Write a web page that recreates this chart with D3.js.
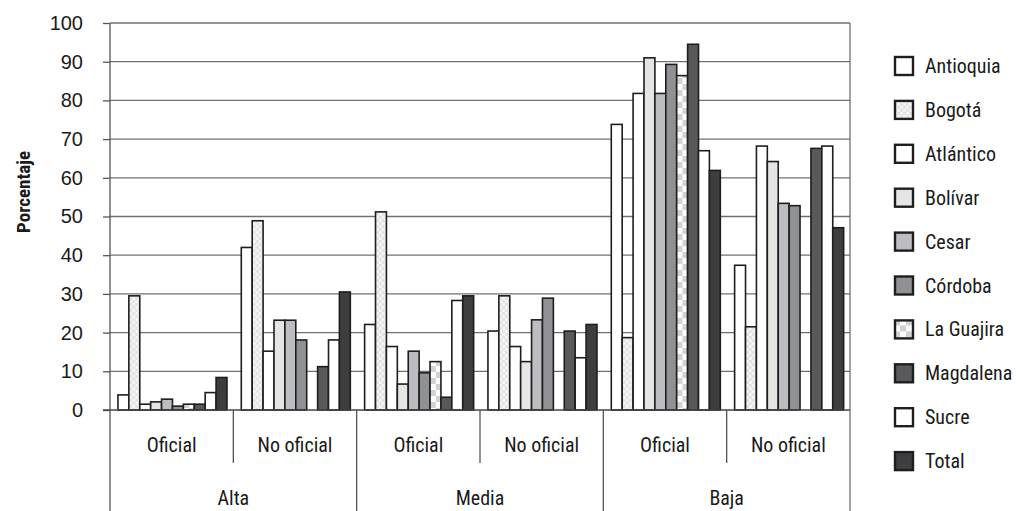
<!DOCTYPE html>
<html>
<head>
<meta charset="utf-8">
<script src="https://cdn.jsdelivr.net/npm/d3@7"></script>
<style>
  html, body { margin: 0; padding: 0; background: #fff; }
  svg { display: block; }
  text { font-family: "Liberation Sans Narrow", "Arial Narrow", "Roboto Condensed", "Liberation Sans", sans-serif; fill: #1a1a1a; }
</style>
</head>
<body>
<svg id="chart" width="1016" height="511"></svg>
<script>
// Nivel (top level) and sector (second level) of the category axis
const levels = ["Alta", "Media", "Baja"];
const sectors = ["Oficial", "No oficial"];

// Departments / series
const series = ["Antioquia", "Bogotá", "Atlántico", "Bolívar", "Cesar", "Córdoba", "La Guajira", "Magdalena", "Sucre", "Total"];

// Percentages per department, in the order Alta-Oficial, Alta-No oficial, Media-Oficial, Media-No oficial, Baja-Oficial, Baja-No oficial
const antioquia = [3.9, 42.0, 22.1, 20.4, 73.8, 37.4];
const bogota    = [29.5, 48.9, 51.2, 29.5, 18.7, 21.5];
const atlantico = [1.5, 15.2, 16.4, 16.4, 81.8, 68.2];
const bolivar   = [2.1, 23.2, 6.7, 12.5, 91.0, 64.2];
const cesar     = [2.8, 23.2, 15.2, 23.3, 81.8, 53.4];
const cordoba   = [1.0, 18.1, 9.6, 28.9, 89.3, 52.8];
const guajira   = [1.5, 0, 12.5, 0, 86.4, 0];
const magdalena = [1.5, 11.2, 3.3, 20.4, 94.5, 67.6];
const sucre     = [4.5, 18.1, 28.3, 13.5, 67.0, 68.2];
const total     = [8.4, 30.5, 29.5, 22.1, 61.9, 47.1];

const yTicks = [0, 10, 20, 30, 40, 50, 60, 70, 80, 90, 100];

const valuesBySeries = [antioquia, bogota, atlantico, bolivar, cesar, cordoba, guajira, magdalena, sucre, total];
const groups = [];
levels.forEach(l => sectors.forEach(s => groups.push({ level: l, sector: s, key: l + "|" + s })));
const rows = groups.map((g, gi) => ({
  key: g.key,
  values: series.map((name, si) => ({ name, value: valuesBySeries[si][gi] }))
}));

const svg = d3.select("#chart");
const defs = svg.append("defs");

// Fine light checker (Bogotá)
const pB = defs.append("pattern").attr("id", "pat-bogota").attr("patternUnits", "userSpaceOnUse")
  .attr("width", 6).attr("height", 6);
pB.append("rect").attr("width", 6).attr("height", 6).attr("fill", "#e4e4e4");
pB.append("rect").attr("x", 0).attr("y", 0).attr("width", 3).attr("height", 3).attr("fill", "#f4f4f4");
pB.append("rect").attr("x", 3).attr("y", 3).attr("width", 3).attr("height", 3).attr("fill", "#f4f4f4");

// Coarse checker (La Guajira)
const pG = defs.append("pattern").attr("id", "pat-guajira").attr("patternUnits", "userSpaceOnUse")
  .attr("width", 12).attr("height", 12);
pG.append("rect").attr("width", 12).attr("height", 12).attr("fill", "#ffffff");
pG.append("rect").attr("x", 0).attr("y", 0).attr("width", 6).attr("height", 6).attr("fill", "#d2d2d2");
pG.append("rect").attr("x", 6).attr("y", 6).attr("width", 6).attr("height", 6).attr("fill", "#d2d2d2");

const fills = {
  "Antioquia": "#ffffff",
  "Bogotá": "url(#pat-bogota)",
  "Atlántico": "#ffffff",
  "Bolívar": "#e5e5e5",
  "Cesar": "#bcbdc1",
  "Córdoba": "#909195",
  "La Guajira": "url(#pat-guajira)",
  "Magdalena": "#59595b",
  "Sucre": "#ffffff",
  "Total": "#3d3e40"
};

const plotLeft = 110, plotRight = 850, plotTop = 23, plotBottom = 410;

const y = d3.scaleLinear().domain([0, 100]).range([plotBottom, plotTop]);
const x0 = d3.scaleBand().domain(groups.map(g => g.key)).range([plotLeft, plotRight])
  .paddingInner(0.116).paddingOuter(0.058);
const x1 = d3.scaleBand().domain(series).range([0, x0.bandwidth()]);
const gapHalf = (x0.step() - x0.bandwidth()) / 2;

// Gridlines
svg.append("g").selectAll("line").data(yTicks.filter(d => d > 0)).join("line")
  .attr("x1", plotLeft).attr("x2", plotRight)
  .attr("y1", d => y(d)).attr("y2", d => y(d))
  .attr("stroke", "#707070").attr("stroke-width", 1.3);

// Right border
svg.append("line").attr("x1", plotRight).attr("x2", plotRight).attr("y1", y(100)).attr("y2", 511)
  .attr("stroke", "#707070").attr("stroke-width", 1.3);

// Bars
const gBars = svg.append("g").selectAll("g").data(rows).join("g")
  .attr("transform", d => `translate(${x0(d.key)},0)`);
gBars.selectAll("rect").data(d => d.values.filter(v => v.value > 0)).join("rect")
  .attr("x", d => x1(d.name) + 0.8)
  .attr("width", x1.bandwidth())
  .attr("y", d => y(d.value))
  .attr("height", d => y(0) - y(d.value))
  .attr("fill", d => fills[d.name])
  .attr("stroke", "#1e1e1e").attr("stroke-width", 1.6);

// Y axis
const yAxis = d3.axisLeft(y).tickValues(yTicks).tickSize(7).tickPadding(20);
const gy = svg.append("g").attr("transform", `translate(${plotLeft},0)`).call(yAxis);
gy.select(".domain").remove();
gy.selectAll(".tick line").attr("stroke", "#555").attr("stroke-width", 1.3);
gy.selectAll(".tick text").attr("font-size", 20).attr("fill", "#1a1a1a")
  .style("font-family", "'Liberation Sans Narrow', 'Arial Narrow', sans-serif");

// Axis lines: left spine and baseline
svg.append("line").attr("x1", plotLeft).attr("x2", plotLeft).attr("y1", y(100)).attr("y2", 511)
  .attr("stroke", "#555").attr("stroke-width", 1.3);
svg.append("line").attr("x1", plotLeft - 7).attr("x2", plotRight).attr("y1", y(0)).attr("y2", y(0))
  .attr("stroke", "#444").attr("stroke-width", 1.3);

// Category separators: short between sectors, long between levels
groups.forEach((g, i) => {
  if (i === 0) return;
  const xs = x0(g.key) - gapHalf;
  const longLine = i % sectors.length === 0;
  svg.append("line").attr("x1", xs).attr("x2", xs)
    .attr("y1", y(0)).attr("y2", longLine ? 511 : 463)
    .attr("stroke", "#555").attr("stroke-width", 1.3);
});

// Sector labels
svg.append("g").selectAll("text").data(groups).join("text")
  .attr("x", d => x0(d.key) + x0.bandwidth() / 2)
  .attr("y", 452)
  .attr("text-anchor", "middle").attr("font-size", 20)
  .text(d => d.sector);

// Level labels
svg.append("g").selectAll("text").data(levels).join("text")
  .attr("x", l => {
    const ks = groups.filter(g => g.level === l).map(g => x0(g.key));
    return (d3.min(ks) + d3.max(ks) + x0.bandwidth()) / 2;
  })
  .attr("y", 505)
  .attr("text-anchor", "middle").attr("font-size", 20)
  .text(d => d);

// Y axis title
svg.append("text")
  .attr("transform", "translate(30,192) rotate(-90)")
  .attr("text-anchor", "middle").attr("font-size", 19).attr("font-weight", "bold")
  .text("Porcentaje");

// Legend
const legend = svg.append("g").selectAll("g").data(series).join("g")
  .attr("transform", (d, i) => `translate(894,${56 + i * 43.9})`);
legend.append("rect").attr("x", 1).attr("y", 1).attr("width", 18).attr("height", 18)
  .attr("fill", d => fills[d]).attr("stroke", "#1e1e1e").attr("stroke-width", 2.4);
legend.append("text").attr("x", 31).attr("y", 17).attr("font-size", 20).text(d => d);
</script>
</body>
</html>
